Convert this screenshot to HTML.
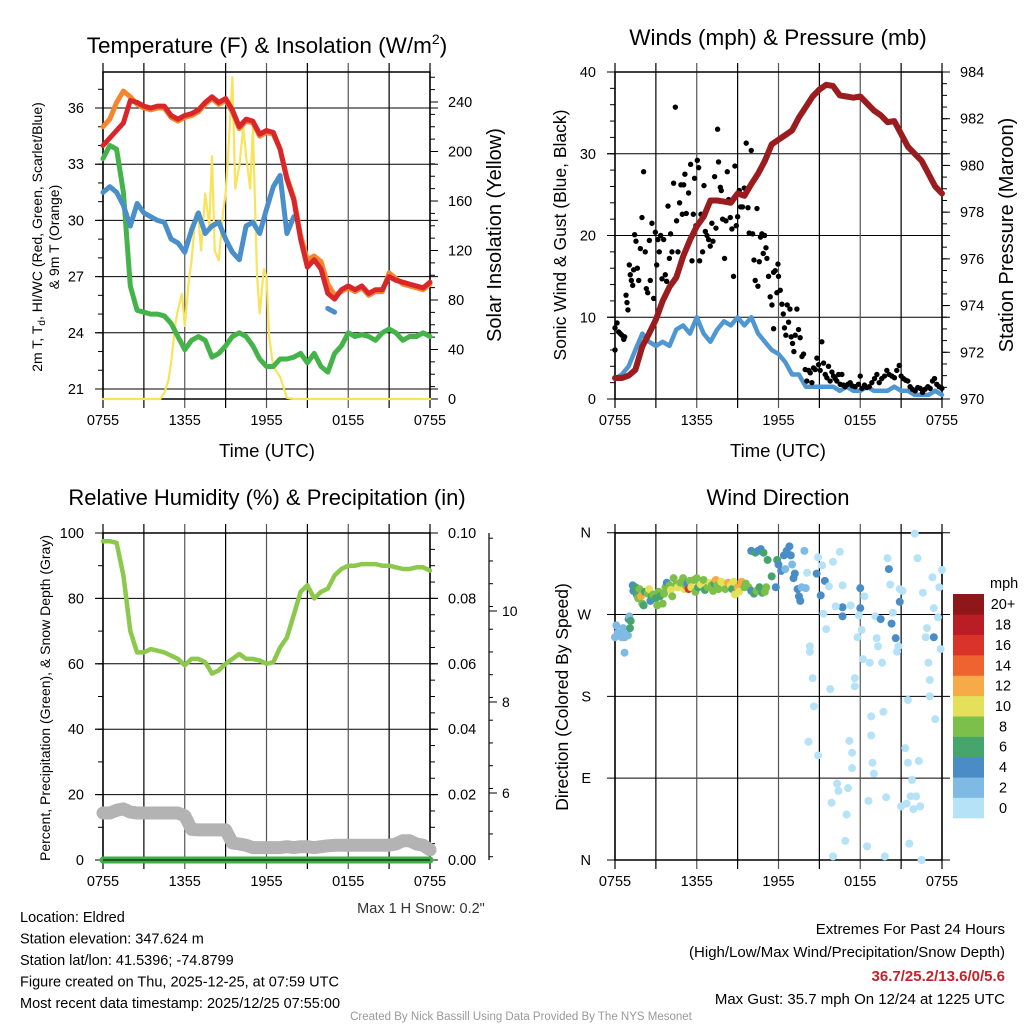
<!DOCTYPE html>
<html><head><meta charset="utf-8"><style>
html,body{margin:0;padding:0;background:#fff;}
svg{display:block;font-family:"Liberation Sans",Arial,sans-serif;}
</style></head><body>
<svg id="chart" width="1024" height="1024" viewBox="0 0 1024 1024" xmlns="http://www.w3.org/2000/svg"></svg>
<script>
// ---------- DATA ----------
const timeLabels = ["0755","1355","1955","0155","0755"];
const hours = [0,0.5,1,1.5,2,2.5,3,3.5,4,4.5,5,5.5,6,6.5,7,7.5,8,8.5,9,9.5,10,10.5,11,11.5,12,12.5,13,13.5,14,14.5,15,15.5,16,16.5,17,17.5,18,18.5,19,19.5,20,20.5,21,21.5,22,22.5,23,23.5,24];
const temp2m = [34.0,34.4,34.8,35.2,36.4,36.3,36.1,36.0,36.1,36.1,35.6,35.4,35.6,35.7,35.9,36.3,36.6,36.3,36.5,35.9,35.0,35.4,35.3,34.6,34.8,34.7,33.8,32.2,31.1,29.0,27.5,27.9,27.4,26.1,25.8,26.3,26.5,26.3,26.5,26.1,26.3,26.3,27.0,26.8,26.7,26.6,26.5,26.4,26.7];
const temp9m = [35.0,35.4,36.3,36.9,36.6,36.2,36.0,35.9,36.0,36.0,35.5,35.3,35.5,35.6,35.8,36.2,36.5,36.2,36.4,35.8,34.9,35.3,35.2,34.5,34.7,34.6,33.8,32.3,31.2,29.2,27.9,28.1,27.8,26.6,26.0,26.2,26.4,26.2,26.4,26.0,26.2,26.2,27.2,26.9,26.6,26.5,26.4,26.3,26.6];
const heatIndexWC = [31.5,31.8,31.5,30.8,29.7,30.9,30.4,30.2,30.0,29.9,29.0,28.8,28.3,29.5,30.4,29.3,29.7,29.9,29.0,28.3,27.9,29.7,29.9,29.3,30.6,31.8,32.4,29.3,30.2,null,null,null,null,25.3,25.1,null,null,null,null,null,null,null,null,null,null,null,null,null,null];
const dewpoint = [33.3,34.0,33.8,31.5,26.5,25.2,25.1,25.0,25.0,24.9,24.5,23.8,23.1,23.6,23.8,23.6,22.7,22.9,23.3,23.8,24.0,23.8,23.3,22.6,22.2,22.2,22.6,22.6,22.7,22.9,22.4,22.9,22.2,21.9,22.9,23.3,24.0,23.8,23.9,23.8,23.6,24.0,24.2,24.0,23.6,23.8,23.8,24.0,23.8];
const solarTimes = [0,4.2,4.5,4.8,5,5.3,5.5,5.8,6,6.3,6.5,6.8,7,7.2,7.5,7.8,8,8.2,8.5,8.8,9,9.2,9.5,9.7,10,10.3,10.5,10.8,11,11.3,11.5,11.8,12,12.2,12.5,13,13.5,14,24];
const solar = [0,0,5,15,29,60,72,85,59,95,112,150,147,120,166,140,196,120,112,150,166,200,260,170,188,220,196,170,220,100,69,105,99,50,26,18,1,0,0];
const pressure = [970.9,970.9,971.0,971.25,972.25,972.8,973.4,974.2,974.8,975.2,976.1,976.8,977.4,977.8,978.5,978.5,978.45,978.4,978.8,978.7,979.2,979.65,980.2,980.9,981.1,981.3,981.5,982.05,982.5,982.95,983.25,983.45,983.4,983.0,982.95,982.9,982.95,982.65,982.35,982.15,981.85,981.9,981.35,980.8,980.5,980.2,979.65,979.1,978.8];
const windSpeed = [2.5,3,4,6,8,7,6.5,7,6.5,8.5,9,8,10,8,7,8.5,9.5,9,10,9,10,8,7,6,5.5,4.5,3,3,1.5,1.5,1.5,1.5,1.5,1,1.5,1,1,1.5,1,1,1,1.5,1,1,0.5,0.5,0.5,1,0.5];
const gustTimes = [
 0,0,0.15,0.27,0.39,0.51,0.64,0.71,0.81,0.88,
 0.95,1.05,1.12,1.2,1.3,1.37,1.44,1.54,1.64,1.74,
 1.86,1.98,2.1,2.22,2.3,2.4,2.52,2.59,2.71,2.84,
 2.96,3.06,3.15,3.25,3.35,3.45,3.57,3.69,3.79,3.89,
 3.99,4.08,4.18,4.3,4.43,4.52,4.62,4.74,4.84,4.94,
 5.04,5.13,5.23,5.4,5.55,5.65,5.75,5.84,5.94,6.04,
 6.14,6.21,6.31,6.43,6.53,6.63,6.75,6.87,6.99,7.11,
 7.19,7.31,7.41,7.53,7.6,7.73,7.8,7.9,8.04,8.14,
 8.24,8.34,8.46,8.58,8.7,8.8,8.9,9,9.12,9.22,
 9.36,9.49,9.63,9.76,9.85,10,10.1,10.2,10.29,10.42,
 10.49,10.59,10.68,10.78,10.88,10.98,11.08,11.15,11.27,11.39,
 11.52,11.64,11.76,11.88,11.96,12,11.64,12.13,12.25,12.35,
 12.44,12.54,12.64,12.74,12.84,12.93,13.03,13.13,13.23,13.35,
 13.47,13.59,13.72,13.84,13.96,14.08,14.21,14.33,14.45,14.57,
 14.69,14.82,14.94,15.06,15.18,15.31,15.43,15.55,15.67,15.79,
 15.92,16.04,16.16,16.28,16.41,16.53,16.65,16.77,16.89,17.09,
 17.26,17.43,17.63,17.87,18,18.12,18.31,18.48,18.66,18.85,
 19.05,19.22,19.39,19.58,19.78,19.95,20.12,20.32,20.51,20.68,
 20.86,21,21.17,21.34,21.49,21.66,21.83,22.03,22.22,22.4,
 22.57,22.76,22.96,23.13,23.3,23.45,23.62,23.79,23.99];
const gustSpeeds = [
 6,8.7,9.3,8.2,8,7.8,7.3,7.6,12.7,11.8,
 10.9,16.4,15.2,14.5,13.9,15.8,20.1,19.3,16,14.5,
 18.4,22.2,27.8,18,13.5,13,19.4,14.5,21.5,12.3,
 20.4,16.4,19.5,18,20,14.7,19.5,15.2,14.4,23.6,
 17.2,20.2,18,26.4,35.7,21.8,18,24,26.2,22.6,
 26.2,27.5,22.7,25.2,28.7,16.9,22.6,27,21.2,29.2,
 28.3,16.9,22.6,18,26.1,20.5,20,19.5,18.7,21.5,
 19.3,27.2,20.9,33,29,25.9,25.5,22,17.2,21.8,
 27.8,24.4,22.2,20.8,15,28.5,21.2,22.3,25.5,23.5,
 23.5,25.8,31.3,23.4,20.3,30.4,20.2,17,14.5,23.3,
 13.8,16.8,19.8,20.2,17.8,20,18.5,17.2,15,12.5,
 11.5,15.5,15.7,13,16.5,15,8.6,13.3,11.6,10.4,
 8.7,7.8,11.5,9.4,11,7.6,6.8,5.8,7.8,11,
 8.5,7.5,5.2,5.5,3.6,2.2,3.5,3.2,2,3.8,
 3.6,5,4.2,3.5,7,4.4,3,2.6,4,2.2,
 3.3,2.8,2.5,2.2,3,1.8,3,1.7,1.5,1.8,
 2,1.6,1.5,1.8,2.8,1.3,1.7,1.4,1.5,2,
 2.5,3,2,2.5,2.8,3.5,3,2.8,2.6,3.5,
 4.1,2.8,2.5,2.3,2.2,1.5,1.2,1,1.4,1.3,
 0.8,1.2,1.5,1.3,2.2,2.5,1.8,1.5,1.3];
const relHumidity = [97.5,97.5,97,87,70,63.5,63.5,64.5,64,63.5,62.5,61.5,59.5,61.5,61.5,60.5,57,58,60,61.5,63,61.5,61.5,61,60,60.5,65,68,75,82,84,80,82,83,87,89,90,90,90.5,90.5,90.5,90,90,89.5,89,89,89.5,89.5,88.5];
const precip = [0,0,0,0,0,0,0,0,0,0,0,0,0,0,0,0,0,0,0,0,0,0,0,0,0,0,0,0,0,0,0,0,0,0,0,0,0,0,0,0,0,0,0,0,0,0,0,0,0];
const snowDepth = [5.56,5.56,5.62,5.65,5.58,5.56,5.56,5.56,5.56,5.56,5.56,5.56,5.5,5.2,5.19,5.19,5.19,5.19,5.19,4.9,4.88,4.85,4.8,4.8,4.8,4.8,4.8,4.82,4.8,4.82,4.82,4.8,4.82,4.84,4.85,4.85,4.85,4.85,4.85,4.85,4.85,4.85,4.85,4.88,4.95,4.95,4.88,4.85,4.75];
const dirTimes = [
 0,0.1,0.2,0.35,0.5,0.6,0.7,0.8,0.95,0.7,
 1.0,1.05,1.1,1.15,1.3,1.35,1.5,1.6,1.7,1.8,
 1.9,2.0,2.1,2.2,2.4,2.5,2.6,2.7,2.8,3.0,
 3.1,3.2,3.3,3.5,3.6,3.7,3.8,4.0,4.1,4.2,
 4.3,4.5,4.6,4.8,5.0,5.1,5.2,5.3,5.4,5.5,
 5.6,5.8,5.9,6.0,6.1,6.2,6.3,6.5,6.6,6.8,
 7.0,7.1,7.2,7.3,7.4,7.5,7.6,7.8,8.0,8.1,
 8.3,8.5,8.6,8.7,8.8,9.0,9.1,9.3,9.5,9.6,
 9.8,10.0,10.2,10.4,10.6,10.8,11.0,11.1,10.0,10.3,
 10.5,10.7,10.9,11.2,11.5,11.8,11.9,12.0,12.2,12.4,
 12.6,12.5,12.8,12.9,13.0,13.1,13.2,13.4,13.5,13.6,
 13.7,13.9,14.0,14.8,15.4,15.1,16.7,18.0,14.1,14.3,
 14.3,14.5,14.6,14.2,14.9,14.9,15.2,15.3,15.5,15.7,
 15.8,15.9,16.0,16.0,16.2,16.3,16.4,16.5,16.7,16.7,
 16.9,17.0,17.1,17.2,17.3,17.4,17.4,17.6,17.6,17.8,
 17.9,18.0,18.1,18.2,18.3,18.5,18.6,18.7,18.8,18.8,
 18.9,19.0,19.1,19.2,19.3,19.5,19.6,19.7,19.8,19.9,
 20.0,20.1,20.2,20.3,20.4,20.6,20.7,20.8,20.9,20.9,
 21.0,21.1,21.3,21.4,21.5,21.5,21.6,21.7,21.8,21.9,
 22.0,22.1,22.2,22.3,22.4,22.5,22.6,22.8,22.9,23.0,
 23.1,23.1,23.3,23.4,23.4,23.5,23.7,23.9,24.0,23.8];
const dirDegrees = [
 245,258,250,248,245,255,245,248,247,228,
 265,268,255,263,302,296,300,292,288,298,
 290,282,280,295,293,298,285,290,292,288,
 280,295,290,282,293,300,305,302,297,290,
 310,303,300,305,310,298,302,304,298,307,
 300,308,295,310,300,305,303,308,297,300,
 305,302,296,304,308,302,298,306,304,298,
 305,302,298,306,292,300,295,306,300,304,
 300,296,293,296,300,294,295,300,340,338,
 340,342,338,330,312,300,330,325,318,335,
 340,320,345,335,325,310,315,298,290,285,
 300,340,299,315,307,291,278,277,316,235,
 229,200,169,130,115,333,324,271,254,301,
 188,63,4,328,279,84,76,339,302,268,
 21,50,79,131,280,118,101,191,200,245,
 269,299,253,221,290,15,65,217,158,137,
 107,95,268,244,235,265,217,163,4,69,
 332,320,303,260,272,244,229,235,284,298,
 59,296,123,62,107,176,18,70,88,56,
 359,70,332,109,59,0,294,245,255,217,
 180,198,311,245,277,155,267,232,319,300];
const dirSpeeds = [
 3,2,3,3,3,3,3,3,3,2.5,
 4,3,6,6,4,4,7,7,8,8,
 13,8,6,6,8,10,4,6,8,7,
 8,8,6,8,8,8,4,8,10,8,
 8,8,10,8,8,10,8,4,16,8,
 10,8,8,8,6,8,10,8,6,8,
 10,8,8,6,12,8,8,10,10,8,
 12,10,6,10,10,12,10,12,8,8,
 8,4,6,8,6,6,8,8,4,6,
 4,4,6,6,6,4,6,4,4,4,
 4,2,4,4,2,4,4,4,4,4,
 2,2,2,4,4,4,4,4,1,1,
 1,1,1,1,1,1,1,1,1,1,
 1,1,1,1,1,1,1,1,1,4,
 1,1,1,1,1,1,1,1,1,1,
 1,4,1,1,1,1,1,1,1,1,
 1,1,1,1,1,4,1,1,1,1,
 1,4,1,4,1,4,1,1,4,1,
 1,1,1,1,1,1,1,1,1,1,
 1,1,1,1,1,1,1,1,1,1,
 1,1,1,4,1,1,1,1,1,1];
const speedBinLabels = ["0","2","4","6","8","10","12","14","16","18","20+"];
const speedBinColors = ["#b6e2f8","#7fbae4","#4a8dc6","#46a46d","#7cc04b","#e5e05a","#f6aa48","#ef6330","#da3329","#bb1d26","#8f1619"];

// ---------- HELPERS ----------
const NS = "http://www.w3.org/2000/svg";
const svg = document.getElementById("chart");
function mk(tag, attrs, parent) {
  const e = document.createElementNS(NS, tag);
  for (const k in attrs) e.setAttribute(k, attrs[k]);
  (parent || svg).appendChild(e);
  return e;
}
function txt(str, attrs, parent) {
  const e = mk("text", attrs, parent);
  e.textContent = str;
  return e;
}
const X0L = 103, X1L = 430, X0R = 615, X1R = 942;
function xs(x0) { return h => x0 + h * 327 / 24; }
const xL = xs(X0L), xR = xs(X0R);

function panelFrame(g, x0, y0, y1, xf) {
  for (let h = 0; h <= 24; h += 3) {
    const v = mk("line", {x1: xf(h), x2: xf(h), y1: y0 - 9, y2: y1 + 9, stroke: (h % 6 === 0 && h>0 && h<24) ? "#555" : "#000", "stroke-width": 1.2}, g);
    
    
  }
  const r = mk("rect", {x: x0, y: y0, width: 327, height: y1 - y0, fill: "none", stroke: "#000", "stroke-width": 1.5}, g);
  
  
  timeLabels.forEach((t, i) => {
    const l = txt(t, {x: xf(i * 6), y: y1 + 26, "font-size": 14.5, "text-anchor": "middle", fill: "#000"}, g);
    
    
  });
}
function hgrid(g, x0, yf, vals) {
  vals.forEach(v => {
    const l = mk("line", {x1: x0 - 8, x2: x0 + 335, y1: yf(v), y2: yf(v), stroke: "#000", "stroke-width": 1}, g);
    
    
  });
}
function ticks(g, x, yf, from, to, step, dir, len) {
  for (let v = from; v <= to + 1e-9; v += step) {
    const t = mk("line", {x1: x, x2: x + dir * len, y1: yf(v), y2: yf(v), stroke: "#000", "stroke-width": 1}, g);
    
    
  }
}
function labels(g, x, yf, vals, anchor, fmt, size) {
  vals.forEach(v => {
    const l = txt(fmt(v), {x: x, y: yf(v) + 5, "font-size": size || 14.5, "text-anchor": anchor, fill: "#000"}, g);
    
    
  });
}
function pathFrom(ts, vs, xf, yf) {
  let d = "", pen = false;
  for (let i = 0; i < ts.length; i++) {
    if (vs[i] === null || vs[i] === undefined) { pen = false; continue; }
    d += (pen ? "L" : "M") + xf(ts[i]).toFixed(1) + "," + yf(vs[i]).toFixed(1);
    pen = true;
  }
  return d;
}
function series(g, ts, vs, xf, yf, color, w) {
  return mk("path", {d: pathFrom(ts, vs, xf, yf), fill: "none", stroke: color, "stroke-width": w, "stroke-linejoin": "round", "stroke-linecap": "round"}, g);
}
function rotTitle(str, x, y, size, g) {
  return txt(str, {x: 0, y: 0, "font-size": size, "text-anchor": "middle", fill: "#000", transform: "translate(" + x + "," + y + ") rotate(-90)"}, g);
}

// ---------- PANEL 1: Temperature ----------
(function () {
  const g = mk("g", {});
  
  
  const yT = T => 389 - (T - 21) * 18.733;
  const yS = S => 399 - S * 1.2375;
  hgrid(g, X0L, yT, [21, 24, 27, 30, 33, 36]);
  panelFrame(g, X0L, 72, 399, xL);
  ticks(g, X0L, yT, 21, 37, 1, -1, 5);
  ticks(g, X0L, yT, 21, 36, 3, -1, 8);
  ticks(g, X1L, yS, 0, 260, 10, 1, 5);
  ticks(g, X1L, yS, 0, 240, 40, 1, 8);
  labels(g, 84, yT, [21, 24, 27, 30, 33, 36], "end", v => String(v));
  labels(g, 448, yS, [0, 40, 80, 120, 160, 200, 240], "start", v => String(v));
  const s1 = series(g, solarTimes, solar, xL, yS, "#f8e35a", 2.2);
  
  
  const s2 = series(g, hours, dewpoint, xL, yT, "#44b44a", 5);
  
  
  const s3 = series(g, hours, heatIndexWC, xL, yT, "#4a8fc9", 5);
  
  
  const s4 = series(g, hours, temp9m, xL, yT, "#f4862e", 5);
  
  
  const s5 = series(g, hours, temp2m, xL, yT, "#d8262a", 5);
  
  
  const t = txt("", {x: 267, y: 53, "font-size": 22.5, "text-anchor": "middle", fill: "#000"}, g);
  t.innerHTML = 'Temperature (F) &amp; Insolation (W/m<tspan dy="-9" font-size="14">2</tspan><tspan dy="9">)</tspan>';
  
  
  const xt = txt("Time (UTC)", {x: 267, y: 457, "font-size": 18.5, "text-anchor": "middle", fill: "#000"}, g);
  
  
  const ry = rotTitle("Solar Insolation (Yellow)", 501, 235, 20, g);
  
  
  const ly1 = txt("", {x: 0, y: 0, "font-size": 14, "text-anchor": "middle", fill: "#000", transform: "translate(42,237) rotate(-90)"}, g);
  ly1.innerHTML = '2m T, T<tspan dy="3" font-size="10">d</tspan><tspan dy="-3">, HI/WC (Red, Green, Scarlet/Blue)</tspan>';
  
  
  const ly2 = rotTitle("& 9m T (Orange)", 59, 237, 14, g);
  
  
})();

// ---------- PANEL 2: Winds & Pressure ----------
(function () {
  const g = mk("g", {});
  
  
  const yW = w => 399 - w * 8.175;
  const yP = p => 399 - (p - 970) * 23.357;
  hgrid(g, X0R, yW, [0, 10, 20, 30, 40]);
  panelFrame(g, X0R, 72, 399, xR);
  ticks(g, X0R, yW, 0, 40, 2, -1, 5);
  ticks(g, X0R, yW, 0, 40, 10, -1, 8);
  ticks(g, X1R, yP, 970, 984, 0.5, 1, 5);
  ticks(g, X1R, yP, 970, 984, 2, 1, 8);
  labels(g, 596, yW, [0, 10, 20, 30, 40], "end", v => String(v));
  labels(g, 960, yP, [970, 972, 974, 976, 978, 980, 982, 984], "start", v => String(v));
  const sw = series(g, hours, windSpeed, xR, yW, "#4f97d2", 4.5);
  
  
  gustTimes.forEach((t, i) => {
    if (gustSpeeds[i] === undefined) return;
    const c = mk("circle", {cx: xR(t), cy: yW(gustSpeeds[i]), r: 2.7, fill: "#000"}, g);
    
    
  });
  const sp = series(g, hours, pressure, xR, yP, "#9a1c1f", 6);
  
  
  const t = txt("Winds (mph) & Pressure (mb)", {x: 778, y: 45, "font-size": 22.5, "text-anchor": "middle", fill: "#000"}, g);
  
  
  const xt = txt("Time (UTC)", {x: 778, y: 457, "font-size": 18.5, "text-anchor": "middle", fill: "#000"}, g);
  
  
  const ly = rotTitle("Sonic Wind & Gust (Blue, Black)", 566, 235, 17.5, g);
  
  
  const ry = rotTitle("Station Pressure (Maroon)", 1013, 235, 20, g);
  
  
})();

// ---------- PANEL 3: RH & Precip ----------
(function () {
  const g = mk("g", {});
  
  
  const yRH = v => 860 - v * 3.27;
  const yPr = v => 860 - v * 3270;
  const ySn = v => 793 - (v - 6) * 45.5;
  hgrid(g, X0L, yRH, [0, 20, 40, 60, 80, 100]);
  panelFrame(g, X0L, 533, 860, xL);
  ticks(g, X0L, yRH, 0, 100, 10, -1, 5);
  ticks(g, X0L, yRH, 0, 100, 20, -1, 8);
  ticks(g, X1L, yPr, 0, 0.1, 0.005, 1, 5);
  ticks(g, X1L, yPr, 0, 0.1, 0.02, 1, 8);
  labels(g, 84, yRH, [0, 20, 40, 60, 80, 100], "end", v => String(v));
  labels(g, 448, yPr, [0, 0.02, 0.04, 0.06, 0.08, 0.1], "start", v => v.toFixed(2));
  const ax = mk("line", {x1: 489, x2: 489, y1: 533, y2: 860, stroke: "#000", "stroke-width": 1.2}, g);
  
  
  ticks(g, 489, ySn, 4.6, 11.6, 0.5, 1, 4);
  ticks(g, 489, ySn, 6, 10, 2, 1, 8);
  labels(g, 502, ySn, [6, 8, 10], "start", v => String(v), 14);
  const sn = series(g, hours, snowDepth, xL, ySn, "#b3b3b3", 13);
  
  
  const pr = series(g, hours, precip, xL, yPr, "#3fae45", 7);
  
  
  const base = mk("line", {x1: X0L, x2: X1L, y1: 860, y2: 860, stroke: "#000", "stroke-width": 1}, g);
  
  
  const rh = series(g, hours, relHumidity, xL, yRH, "#8cc84b", 4.5);
  
  
  const t = txt("Relative Humidity (%) & Precipitation (in)", {x: 267, y: 505, "font-size": 22, "text-anchor": "middle", fill: "#000"}, g);
  
  
  const ly = rotTitle("Percent, Precipitation (Green), & Snow Depth (Gray)", 50, 698, 14, g);
  
  
  const ms = txt('Max 1 H Snow: 0.2"', {x: 421, y: 913, "font-size": 14.5, "text-anchor": "middle", fill: "#333"}, g);
  
  
})();

// ---------- PANEL 4: Wind Direction ----------
(function () {
  const g = mk("g", {});
  
  
  const yD = d => 860 - d * 327.3 / 360;
  hgrid(g, X0R, yD, [0, 90, 180, 270, 360]);
  panelFrame(g, X0R, 533, 860, xR);
  const dl = ["N", "E", "S", "W", "N"];
  [0, 90, 180, 270, 360].forEach((v, i) => {
    const l = txt(dl[i], {x: 591, y: yD(v) + 5, "font-size": 14.5, "text-anchor": "end", fill: "#000"}, g);
    
    
  });
  function binColor(s) { let b = Math.floor(s / 2); if (b > 10) b = 10; if (b < 0) b = 0; return speedBinColors[b]; }
  dirTimes.forEach((t, i) => {
    if (dirDegrees[i] === undefined) return;
    const c = mk("circle", {cx: xR(t), cy: yD(dirDegrees[i]), r: 4, fill: binColor(dirSpeeds[i] || 0)}, g);
    
    
  });
  const t = txt("Wind Direction", {x: 778, y: 505, "font-size": 22, "text-anchor": "middle", fill: "#000"}, g);
  
  
  const ly = rotTitle("Direction (Colored By Speed)", 568, 697, 17.5, g);
  
  
  const cb = mk("g", {}, g);
  
  
  const mph = txt("mph", {x: 990, y: 588, "font-size": 14.5, "text-anchor": "start", fill: "#000"}, cb);
  
  
  const bh = 224 / speedBinColors.length;
  speedBinColors.forEach((col, i) => {
    const yTop = 818 - (i + 1) * bh;
    const r = mk("rect", {x: 953, y: yTop, width: 31, height: bh + 0.3, fill: col}, cb);
    
    
    const l = txt(speedBinLabels[i], {x: 1003, y: yTop + bh / 2 + 5, "font-size": 14.5, "text-anchor": "middle", fill: "#000"}, cb);
    
    
  });
})();

// ---------- FOOTER ----------
(function () {
  const g = mk("g", {});
  
  
  const left = ["Location: Eldred", "Station elevation: 347.624 m", "Station lat/lon: 41.5396; -74.8799", "Figure created on Thu, 2025-12-25, at 07:59 UTC", "Most recent data timestamp: 2025/12/25 07:55:00"];
  left.forEach((s, i) => {
    const l = txt(s, {x: 20, y: 922 + i * 21.5, "font-size": 14.5, fill: "#000"}, g);
    
    
  });
  const r1 = txt("Extremes For Past 24 Hours", {x: 1005, y: 934, "font-size": 15, "text-anchor": "end", fill: "#000"}, g);
  
  
  const r2 = txt("(High/Low/Max Wind/Precipitation/Snow Depth)", {x: 1005, y: 957, "font-size": 15, "text-anchor": "end", fill: "#000"}, g);
  
  
  const r3 = txt("36.7/25.2/13.6/0/5.6", {x: 1005, y: 981, "font-size": 15, "font-weight": "bold", "text-anchor": "end", fill: "#c8202a"}, g);
  
  
  const r4 = txt("Max Gust: 35.7 mph On 12/24 at 1225 UTC", {x: 1005, y: 1004, "font-size": 15, "text-anchor": "end", fill: "#000"}, g);
  
  
  const c = txt("Created By Nick Bassill Using Data Provided By The NYS Mesonet", {x: 521, y: 1020, "font-size": 11.5, "text-anchor": "middle", fill: "#999"}, g);
  
  
})();
</script>
</body></html>
